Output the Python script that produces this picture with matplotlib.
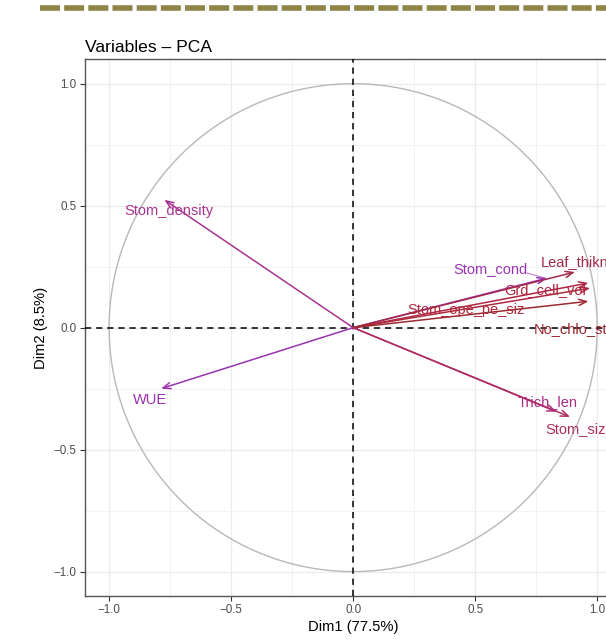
import numpy as np
import matplotlib
matplotlib.use("Agg")
import matplotlib.pyplot as plt
from matplotlib.lines import Line2D

plt.rcParams['font.family'] = ['Liberation Sans', 'DejaVu Sans']
plt.rcParams['lines.scale_dashes'] = False

# ---- data ----
variables = ["Stom_density", "WUE", "Stom_cond", "Leaf_thikness", "Grd_cell_vol",
             "Stom_ope_pe_siz", "No_chlo_st", "Trich_len", "Stom_size"]
dim1 = [-0.774, -0.787, 0.794, 0.909, 0.964, 0.971, 0.964, 0.834, 0.889]
dim2 = [0.524, -0.250, 0.203, 0.228, 0.183, 0.162, 0.108, -0.345, -0.366]
label_x = [-0.753, -0.832, 0.562, 0.770, 0.787, 0.464, 0.742, 0.797, 0.787]
label_y = [0.479, -0.298, 0.240, 0.271, 0.156, 0.074, -0.004, -0.304, -0.415]
label_ha = ["center", "center", "center", "left", "center", "center", "left", "center", "left"]
colors = ["#a8338f", "#9a32b0", "#9a32b3", "#a32a48", "#b02540",
          "#ad2a3c", "#9c2a30", "#ad2d80", "#b02d5e"]
xticks = [-1.0, -0.5, 0.0, 0.5, 1.0]
yticks = [-1.0, -0.5, 0.0, 0.5, 1.0]
title = "Variables \u2013 PCA"
xlabel = "Dim1 (77.5%)"
ylabel = "Dim2 (8.5%)"

W, H = 606, 644
fig = plt.figure(figsize=(W / 100, H / 100), dpi=100)

# top decorative dashed band
fig.add_artist(Line2D([40 / W, 1.05], [1 - 8 / H, 1 - 8 / H], transform=fig.transFigure,
                      color="#8f8447", lw=4.0, dashes=(14.4, 3.0), solid_capstyle='butt',
                      dash_capstyle='butt'))

left, right, top, bottom = 84.7, 621.6, 59.3, 596.0
ax = fig.add_axes([left / W, 1 - bottom / H, (right - left) / W, (bottom - top) / H])
ax.set_xlim(-1.1, 1.1)
ax.set_ylim(-1.1, 1.1)

# grid
ax.set_xticks(xticks)
ax.set_yticks(yticks)
ax.set_xticks([-0.75, -0.25, 0.25, 0.75], minor=True)
ax.set_yticks([-0.75, -0.25, 0.25, 0.75], minor=True)
ax.grid(True, which='major', color="#ebebeb", lw=0.9)
ax.grid(True, which='minor', color="#f2f2f2", lw=0.7)
ax.set_axisbelow(True)
ax.tick_params(which='minor', length=0)
ax.tick_params(which='major', direction='out', length=3.5, width=0.8, color="#333333",
               labelsize=8.4, labelcolor="#4d4d4d", pad=2.5)
ax.set_xticklabels([f"{t:.1f}".replace("-", "\u2212") for t in xticks])
ax.set_yticklabels([f"{t:.1f}".replace("-", "\u2212") for t in yticks])
for s in ax.spines.values():
    s.set_color("#555555")
    s.set_linewidth(1.0)

# unit circle
th = np.linspace(0, 2 * np.pi, 200)
ax.plot(np.cos(th), np.sin(th), color="#b8b8b8", lw=1.0, zorder=2)

# reference lines
ax.axhline(0, color="black", lw=1.1, dashes=(4.5, 3.5), zorder=3)
ax.axvline(0, color="black", lw=1.1, dashes=(4.5, 3.5), zorder=3)

# arrows
for x, y, c in zip(dim1, dim2, colors):
    ax.annotate("", xy=(x, y), xytext=(0, 0),
                arrowprops=dict(arrowstyle="->,head_length=0.55,head_width=0.22",
                                color=c, lw=1.1, shrinkA=0, shrinkB=0), zorder=4)

# leader segment for Stom_cond label
ax.plot([0.713, 0.790], [0.224, 0.202], color="#9a32b3", lw=0.6, alpha=0.8, zorder=4)

# labels
for name, lx, ly, ha, c in zip(variables, label_x, label_y, label_ha, colors):
    ax.text(lx, ly, name, color=c, fontsize=10.5, ha=ha, va='center', zorder=5)

fig.text(left / W, 1 - 47 / H, title, fontsize=12.6, color="black", ha='left', va='center')
ax.set_xlabel(xlabel, fontsize=10.6, labelpad=3)
ax.set_ylabel(ylabel, fontsize=10.6, labelpad=4)

fig.savefig("out.png", dpi=100)
